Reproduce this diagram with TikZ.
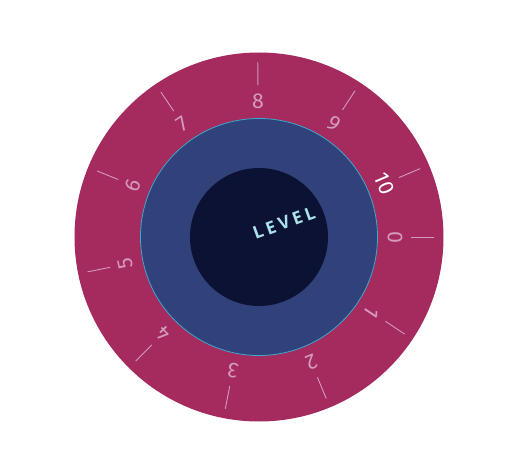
\documentclass[tikz,border=0pt]{standalone}
\usepackage{fontspec}
\setmainfont{Fira Sans}
\newfontfamily\lvlfont{Open Sans}[LetterSpace=20]
\usetikzlibrary{positioning}
\definecolor{dialmagenta}{RGB}{165, 42, 94}
\definecolor{dialblue}{RGB}{49, 65, 122}
\definecolor{dialnavy}{RGB}{11, 18, 52}
\definecolor{dialcyan}{RGB}{58, 170, 204}
\definecolor{dialpink}{RGB}{212, 155, 187}
\definecolor{dialice}{RGB}{172, 226, 236}

\begin{document}
\begin{tikzpicture}[
      x=1pt, y=1pt,
      ring/.style={circle, inner sep=0pt, draw=none},
      num/.style={font=\fontsize{21.5}{21.5}\selectfont, inner sep=0pt},
      tck/.style={dialpink, line width=0.9pt}
    ]
      \useasboundingbox (-259,-237) rectangle (258,237);

      % Dial discs
      \node[ring, fill=dialmagenta, minimum size=369] (outer) at (0,0) {};
      \node[ring, fill=dialblue, draw=dialcyan, line width=0.8pt, minimum size=237] (mid) at (0,0) {};
      \node[ring, fill=dialnavy, minimum size=138] (core) at (0,0) {};

      % Numbers and ticks (10 is the current level)
      \foreach \i in {0,...,10} {
        \pgfmathsetmacro{\ang}{-33.7*\i}
        \ifnum\i=10 \def\numcol{white}\else\def\numcol{dialpink}\fi
        \node[num, text=\numcol, rotate=\ang-90] (lbl\i) at (\ang:136) {\i};
        \coordinate (tin\i) at (\ang:152);
        \coordinate (tout\i) at (\ang:175);
        \draw[tck] (tin\i) -- (tout\i);
      }

      \node[font=\fontsize{17.5}{17.5}\selectfont\lvlfont\bfseries, text=dialice, rotate=20] (lvl) at (25,14) {LEVEL};
    \end{tikzpicture}
\end{document}
